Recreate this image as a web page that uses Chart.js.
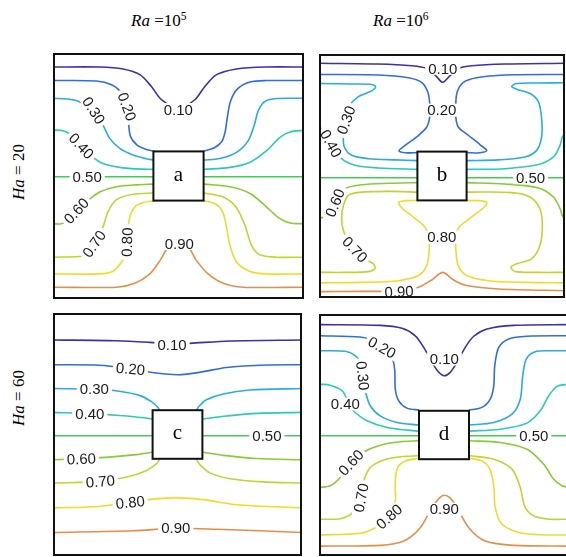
<!DOCTYPE html>
<html>
<head>
<meta charset="utf-8">
<script src="https://cdn.jsdelivr.net/npm/chart.js@4.4.1/dist/chart.umd.min.js"></script>
<style>
  html, body { margin: 0; padding: 0; background: #fff; width: 566px; height: 557px; overflow: hidden; }
  .panel { position: absolute; }
  .hdr { position: absolute; font-family: "Liberation Serif", "Times New Roman", serif; font-size: 17px;
         color: #000; white-space: nowrap; line-height: 1; }
  .hdr sup { font-size: 0.68em; vertical-align: 0.5em; line-height: 0; }
  .side { transform: translate(-50%, -50%) rotate(-90deg); }
</style>
</head>
<body>
<div class="hdr" style="left:131px;top:12px"><i>Ra</i> =10<sup>5</sup></div>
<div class="hdr" style="left:373px;top:12px"><i>Ra</i> =10<sup>6</sup></div>
<div class="hdr side" style="left:18px;top:172px"><i>Ha</i> = 20</div>
<div class="hdr side" style="left:18px;top:398px"><i>Ha</i> = 60</div>

<canvas id="pa" class="panel" width="251" height="246" style="left:53px;top:53px"></canvas>
<canvas id="pb" class="panel" width="246" height="244" style="left:319px;top:54px"></canvas>
<canvas id="pc" class="panel" width="249" height="243" style="left:53px;top:313px"></canvas>
<canvas id="pd" class="panel" width="250" height="242" style="left:319px;top:314px"></canvas>

<script>
// Isotherm levels (non-dimensional temperature) and their colours
const levels = [0.1, 0.2, 0.3, 0.4, 0.5, 0.6, 0.7, 0.8, 0.9];
const levelColors = ['#3d30a8', '#2f6fd6', '#27ade0', '#2ccab8', '#46c95a', '#86cc34', '#c2d333', '#f0da2e', '#e38f4c'];

// Heated square obstacle, in cavity coordinates
const obstacle = [0.4, 0.6];

// ---- Panel a: Ha = 20, Ra = 1e5 ----
const a10 = [[[0,.943],[.186,.943],[.279,.935],[.346,.912],[.392,.864],[.432,.810],[.499,.774],[.565,.810],[.605,.864],[.652,.912],[.731,.935],[.851,.943],[1,.943]]];
const a20 = [[[0,.888],[.173,.886],[.233,.871],[.273,.837],[.293,.782],[.301,.714],[.309,.660],[.335,.626],[.372,.608],[.402,.601]],
             [[.601,.601],[.641,.614],[.672,.639],[.686,.680],[.694,.735],[.707,.803],[.734,.853],[.785,.882],[.851,.888],[1,.888]]];
const a30 = [[[0,.816],[.066,.812],[.113,.799],[.162,.766],[.199,.707],[.226,.653],[.266,.612],[.319,.585],[.372,.570],[.402,.565]],
             [[.601,.565],[.665,.571],[.731,.596],[.778,.644],[.802,.707],[.818,.766],[.844,.803],[.891,.815],[1,.816]]];
const a40 = [[[0,.687],[.040,.684],[.073,.667],[.113,.622],[.160,.576],[.199,.551],[.266,.535],[.332,.529],[.402,.527]],
             [[.601,.527],[.705,.535],[.785,.556],[.851,.603],[.904,.657],[.944,.679],[1,.686]]];
const a50 = [[[0,.497],[.402,.497]], [[.601,.497],[1,.497]]];
const a60 = [[[0,.306],[.033,.306],[.060,.320],[.093,.358],[.144,.404],[.186,.435],[.253,.456],[.332,.464],[.402,.467]],
             [[.601,.467],[.705,.456],[.785,.429],[.844,.381],[.898,.331],[.944,.309],[1,.306]]];
const a70 = [[[0,.170],[.106,.173],[.133,.180],[.164,.224],[.197,.286],[.219,.354],[.253,.404],[.319,.426],[.402,.431]],
             [[.601,.431],[.678,.415],[.729,.374],[.765,.299],[.791,.218],[.824,.180],[.891,.170],[1,.170]]];
const a80 = [[[0,.102],[.186,.102],[.239,.113],[.273,.150],[.290,.184],[.297,.265],[.306,.333],[.326,.374],[.359,.392],[.402,.399]],
             [[.601,.399],[.645,.388],[.676,.354],[.691,.293],[.705,.218],[.731,.150],[.785,.112],[.851,.102],[1,.102]]];
const a90 = [[[0,.048],[.253,.048],[.326,.064],[.386,.102],[.426,.156],[.459,.211],[.499,.231],[.539,.211],[.572,.156],[.618,.102],[.678,.064],[.758,.048],[1,.048]]];
// inline labels: [level, x, y, rotation in degrees]
const aLabels = [[0.1,.499,.770,0],[0.2,.295,.782,70],[0.3,.162,.766,57],[0.4,.113,.622,47],[0.5,.136,.497,0],
                 [0.6,.093,.358,-47],[0.7,.164,.224,-55],[0.8,.295,.231,-88],[0.9,.503,.226,0]];

// ---- Panel b: Ha = 20, Ra = 1e6 ----
const b10 = [[[0,.962],[.241,.959],[.377,.952],[.438,.941],[.474,.911],[.503,.884],[.533,.911],[.569,.941],[.621,.952],[.756,.959],[1,.962]]];
const b20 = [[[0,.916],[.241,.914],[.363,.903],[.417,.884],[.442,.845],[.450,.797],[.450,.742],[.438,.701],[.397,.660],[.350,.626],[.325,.603],[.350,.595],[.401,.596]],
             [[.602,.596],[.654,.595],[.682,.604],[.654,.629],[.607,.667],[.566,.701],[.556,.742],[.556,.797],[.562,.845],[.587,.884],[.641,.903],[.756,.914],[1,.916]]];
const b30 = [[[0,.879],[.133,.877],[.214,.875],[.230,.866],[.214,.849],[.160,.825],[.122,.784],[.106,.729],[.099,.667],[.103,.619],[.133,.585],[.201,.571],[.309,.566],[.401,.563]],
             [[.602,.563],[.729,.566],[.837,.578],[.885,.605],[.905,.660],[.905,.736],[.892,.804],[.858,.838],[.803,.856],[.783,.866],[.799,.878],[.864,.881],[1,.882]]];
const b40 = [[[0,.709],[.011,.688],[.049,.633],[.092,.571],[.146,.544],[.241,.533],[.401,.527]],
             [[.602,.527],[.756,.530],[.892,.547],[.953,.578],[.980,.626],[.989,.660],[1,.670]]];
const b50 = [[[0,.493],[.401,.493]], [[.602,.493],[1,.493]]];
const b60 = [[[0,.322],[.018,.334],[.065,.390],[.106,.448],[.173,.464],[.282,.470],[.401,.473]],
             [[.602,.473],[.756,.467],[.892,.451],[.953,.414],[.980,.366],[.989,.338],[1,.322]]];
const b70 = [[[.401,.434],[.295,.437],[.173,.434],[.119,.421],[.099,.379],[.092,.325],[.099,.277],[.119,.236],[.146,.199],[.187,.160],[.221,.140],[.228,.122],[.201,.108],[.106,.105],[0,.105]],
             [[.602,.434],[.783,.432],[.858,.414],[.898,.366],[.908,.297],[.898,.215],[.864,.160],[.803,.140],[.780,.126],[.799,.108],[.892,.105],[1,.105]]];
const b80 = [[[.401,.400],[.355,.399],[.325,.393],[.333,.373],[.383,.332],[.431,.290],[.447,.249],[.447,.188],[.438,.133],[.404,.092],[.322,.071],[.173,.064],[0,.062]],
             [[.602,.400],[.648,.399],[.682,.393],[.672,.373],[.621,.332],[.569,.290],[.557,.249],[.557,.188],[.566,.133],[.600,.092],[.688,.071],[.837,.064],[1,.062]]];
const b90 = [[[0,.026],[.173,.027],[.325,.029],[.404,.044],[.458,.074],[.503,.105],[.547,.074],[.600,.051],[.729,.037],[1,.030]]];
const bLabels = [[0.1,.503,.941,0],[0.2,.499,.770,0],[0.3,.110,.729,-70],[0.4,.049,.633,61],[0.5,.860,.493,0],
                 [0.6,.065,.390,-68],[0.7,.146,.199,47],[0.8,.499,.249,0],[0.9,.325,.026,-3]];

// ---- Panel c: Ha = 60, Ra = 1e5 ----
const c10 = [[[0,.889],[.253,.886],[.388,.879],[.478,.872],[.549,.875],[.711,.885],[1,.889]]];
const c20 = [[[0,.787],[.186,.785],[.307,.771],[.415,.753],[.502,.746],[.590,.756],[.697,.776],[.859,.786],[1,.787]]];
const c30 = [[[0,.689],[.166,.686],[.266,.678],[.347,.661],[.394,.636],[.421,.612],[.428,.599]],
             [[.576,.599],[.586,.616],[.616,.643],[.684,.667],[.791,.683],[1,.689]]];
const c40 = [[[0,.591],[.148,.586],[.253,.579],[.334,.572],[.401,.564]],
             [[.603,.564],[.697,.576],[.818,.587],[1,.591]]];
const c50 = [[[0,.495],[.401,.495]], [[.603,.495],[1,.495]]];
const c60 = [[[0,.396],[.114,.401],[.226,.407],[.334,.417],[.401,.427]],
             [[.603,.427],[.684,.414],[.818,.401],[1,.396]]];
const c70 = [[[0,.300],[.190,.307],[.293,.324],[.374,.351],[.415,.379],[.428,.396]],
             [[.576,.396],[.590,.376],[.630,.342],[.711,.318],[.845,.305],[1,.300]]];
const c80 = [[[0,.198],[.186,.204],[.310,.221],[.415,.235],[.502,.239],[.603,.232],[.738,.211],[1,.198]]];
const c90 = [[[0,.097],[.320,.104],[.493,.114],[.657,.110],[1,.097]]];
const cLabels = [[0.1,.478,.870,0],[0.2,.311,.770,5],[0.3,.166,.686,0],[0.4,.148,.585,0],[0.5,.859,.495,0],
                 [0.6,.114,.400,-2],[0.7,.190,.307,-5],[0.8,.310,.221,-6],[0.9,.493,.114,0]];

// ---- Panel d: Ha = 60, Ra = 1e6 ----
const d10 = [[[0,.956],[.245,.953],[.332,.941],[.385,.910],[.419,.862],[.452,.800],[.479,.759],[.501,.745],[.525,.759],[.552,.800],[.585,.862],[.619,.908],[.672,.938],[.779,.953],[1,.956]]];
const d20 = [[[0,.910],[.165,.905],[.205,.894],[.252,.862],[.292,.821],[.303,.766],[.305,.690],[.319,.641],[.352,.611],[.400,.603]],
             [[.600,.603],[.652,.614],[.685,.648],[.699,.703],[.703,.786],[.719,.862],[.759,.897],[.832,.908],[1,.910]]];
const d30 = [[[0,.848],[.105,.846],[.145,.828],[.165,.800],[.175,.745],[.185,.683],[.205,.621],[.245,.579],[.312,.552],[.400,.541]],
             [[.600,.541],[.699,.552],[.772,.586],[.805,.648],[.815,.745],[.829,.814],[.865,.844],[.925,.848],[1,.848]]];
const d40 = [[[0,.710],[.045,.706],[.092,.683],[.112,.648],[.125,.620],[.145,.593],[.192,.559],[.272,.531],[.352,.520],[.400,.516]],
             [[.600,.516],[.725,.524],[.832,.549],[.885,.600],[.919,.662],[.952,.701],[1,.710]]];
const d50 = [[[0,.497],[.400,.497]], [[.600,.497],[1,.497]]];
const d60 = [[[0,.283],[.045,.290],[.085,.324],[.128,.386],[.179,.430],[.245,.458],[.325,.472],[.400,.476]],
             [[.600,.476],[.725,.469],[.832,.441],[.899,.379],[.939,.317],[.972,.290],[1,.283]]];
const d70 = [[[0,.152],[.085,.154],[.132,.177],[.168,.241],[.179,.310],[.205,.366],[.259,.397],[.325,.410],[.400,.414]],
             [[.600,.414],[.699,.400],[.772,.359],[.805,.283],[.825,.200],[.865,.163],[.925,.152],[1,.152]]];
const d80 = [[[0,.087],[.165,.094],[.225,.117],[.281,.163],[.305,.221],[.305,.303],[.315,.366],[.345,.393],[.400,.404]],
             [[.600,.404],[.652,.393],[.683,.359],[.699,.290],[.705,.200],[.732,.131],[.799,.097],[.885,.088],[1,.087]]];
const d90 = [[[0,.041],[.245,.044],[.339,.062],[.405,.117],[.452,.200],[.483,.241],[.501,.251],[.523,.241],[.552,.200],[.599,.117],[.665,.062],[.779,.044],[1,.041]]];
const dLabels = [[0.1,.501,.814,0],[0.2,.252,.862,29],[0.3,.175,.745,84],[0.4,.105,.628,0],[0.5,.859,.497,0],
                 [0.6,.128,.386,-47],[0.7,.168,.241,-80],[0.8,.281,.163,-42],[0.9,.501,.193,0]];

// Draws contour labels, the obstacle with its panel letter and the cavity frame
const panelDeco = {
  id: 'panelDeco',
  afterDatasetsDraw(chart, args, opts) {
    const { ctx, chartArea: ca, scales: { x, y } } = chart;
    ctx.save();
    ctx.font = '15px "Liberation Sans", Arial, sans-serif';
    ctx.textAlign = 'center';
    ctx.textBaseline = 'middle';
    opts.labels.forEach(([v, lx, ly, rot]) => {
      const t = v.toFixed(2);
      const w = ctx.measureText(t).width;
      ctx.save();
      ctx.translate(x.getPixelForValue(lx), y.getPixelForValue(ly));
      ctx.rotate(rot * Math.PI / 180);
      ctx.fillStyle = '#fff';
      ctx.fillRect(-w / 2 - 3, -6.5, w + 6, 13);
      ctx.fillStyle = '#1c1c1c';
      ctx.fillText(t, 0, 1);
      ctx.restore();
    });

    const x0 = x.getPixelForValue(obstacle[0]), x1 = x.getPixelForValue(obstacle[1]);
    const y0 = y.getPixelForValue(obstacle[1]), y1 = y.getPixelForValue(obstacle[0]);
    ctx.fillStyle = '#fff';
    ctx.fillRect(x0, y0, x1 - x0, y1 - y0);
    ctx.strokeStyle = '#111';
    ctx.lineWidth = 2;
    ctx.strokeRect(x0, y0, x1 - x0, y1 - y0);
    ctx.fillStyle = '#000';
    ctx.font = '21px "Liberation Serif", "Times New Roman", serif';
    ctx.fillText(opts.letter, (x0 + x1) / 2, (y0 + y1) / 2 - 1);

    ctx.strokeStyle = '#111';
    ctx.lineWidth = 2;
    ctx.strokeRect(ca.left + 1, ca.top + 1, ca.width - 2, ca.height - 2);
    ctx.restore();
  }
};

function makePanel(id, letter, lines, labels) {
  const datasets = [];
  lines.forEach((pieces, i) => {
    pieces.forEach(piece => {
      datasets.push({
        label: levels[i].toFixed(2),
        data: piece.map(([px, py]) => ({ x: px, y: py })),
        showLine: true,
        borderColor: levelColors[i],
        borderWidth: 1.6,
        pointRadius: 0,
        tension: 0.3,
        fill: false
      });
    });
  });
  new Chart(document.getElementById(id), {
    type: 'scatter',
    data: { datasets },
    options: {
      responsive: false,
      animation: false,
      devicePixelRatio: 1,
      events: [],
      layout: { padding: 0 },
      scales: {
        x: { type: 'linear', min: 0, max: 1, display: false },
        y: { type: 'linear', min: 0, max: 1, display: false }
      },
      plugins: {
        legend: { display: false },
        tooltip: { enabled: false },
        panelDeco: { letter, labels }
      }
    },
    plugins: [panelDeco]
  });
}

makePanel('pa', 'a', [a10, a20, a30, a40, a50, a60, a70, a80, a90], aLabels);
makePanel('pb', 'b', [b10, b20, b30, b40, b50, b60, b70, b80, b90], bLabels);
makePanel('pc', 'c', [c10, c20, c30, c40, c50, c60, c70, c80, c90], cLabels);
makePanel('pd', 'd', [d10, d20, d30, d40, d50, d60, d70, d80, d90], dLabels);
</script>
</body>
</html>
